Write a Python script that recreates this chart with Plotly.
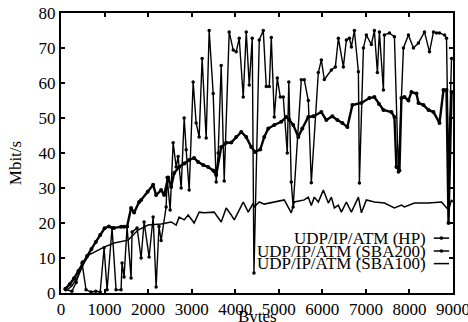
import plotly.graph_objects as go

# UDP/IP/ATM throughput over an HP adapter (thin line, point markers)
hp_bytes = [100, 250, 350, 483, 575, 690, 800, 900, 989, 1058, 1172, 1264, 1379, 1402,
            1448, 1517, 1609, 1632, 1747, 1839, 1908, 2023, 2115, 2184, 2250, 2299, 2414,
            2437, 2506, 2575, 2644, 2690, 2759, 2828, 2874, 2943, 3034, 3103, 3172, 3240,
            3333, 3402, 3494, 3563, 3609, 3678, 3747, 3862, 3954, 4023, 4092, 4184, 4253,
            4322, 4391, 4430, 4552, 4644, 4713, 4782, 4828, 4897, 4966, 5034, 5103, 5195,
            5230, 5287, 5330, 5517, 5586, 5678, 5747, 5908, 5977, 6046, 6207, 6299, 6368,
            6483, 6552, 6621, 6667, 6736, 6828, 6851, 6943, 7011, 7126, 7195, 7264, 7310,
            7402, 7425, 7540, 7655, 7747, 7862, 7977, 8092, 8207, 8345, 8460, 8552, 8621,
            8690, 8805, 8851, 8897, 8966]
hp_mbit = [1.0, 0.5, 3.0, 8.6, 0.9, 0.3, 0.5, 0.3, 12.9, 0.9, 18.6, 0.9, 0.9, 8.6,
           4.6, 18.9, 4.3, 17.4, 18.6, 10.0, 20.3, 10.3, 21.7, 1.7, 19.0, 15.0, 24.6,
           33.0, 23.7, 42.9, 36.0, 39.0, 30.0, 50.0, 40.9, 29.4, 60.3, 48.6, 44.6, 67.0,
           44.3, 75.0, 57.0, 31.7, 40.0, 65.0, 32.0, 74.6, 69.4, 68.9, 72.8, 56.0, 74.6,
           59.4, 72.8, 5.7, 72.3, 75.0, 59.0, 59.0, 73.0, 50.3, 61.4, 56.0, 56.0, 40.0,
           60.3, 31.7, 24.6, 60.9, 60.9, 55.0, 31.5, 63.0, 66.6, 61.0, 63.7, 64.6, 72.8,
           64.6, 72.3, 72.8, 70.3, 75.0, 63.2, 31.4, 70.0, 73.7, 71.0, 75.0, 63.0, 74.6,
           58.0, 73.7, 74.3, 73.2, 34.6, 70.0, 73.7, 70.0, 71.4, 74.6, 68.9, 74.6, 74.3,
           74.3, 73.7, 72.8, 36.0, 67.0]

# UDP/IP/ATM throughput over an SBA-200 adapter (thick line, point markers)
sba200_bytes = [100, 200, 300, 400, 500, 600, 700, 800, 900, 1000, 1100, 1218, 1379, 1448,
                1517, 1609, 1680, 1793, 1840, 1990, 2115, 2184, 2299, 2368, 2460, 2529,
                2598, 2713, 2828, 2943, 3057, 3149, 3264, 3379, 3494, 3563, 3678, 3793,
                3908, 4023, 4138, 4253, 4368, 4460, 4575, 4667, 4759, 4897, 5057, 5172,
                5241, 5333, 5448, 5540, 5678, 5793, 5977, 6092, 6230, 6345, 6460, 6575,
                6690, 6897, 7080, 7195, 7300, 7402, 7586, 7655, 7701, 7770, 7816, 7885,
                7977, 8046, 8161, 8207, 8322, 8437, 8552, 8690, 8782, 8851, 8897, 8966]
sba200_mbit = [1.2, 2.5, 4.2, 6.3, 8.8, 10.6, 12.6, 14.6, 16.6, 18.5, 19.0, 18.6, 18.9, 18.9,
               19.0, 24.3, 23.0, 26.0, 26.6, 28.9, 30.9, 28.0, 29.4, 28.0, 33.0, 30.3,
               34.3, 36.0, 37.0, 38.0, 38.6, 37.4, 36.6, 36.0, 35.0, 33.7, 41.7, 42.9,
               43.0, 44.6, 46.0, 44.6, 41.7, 40.3, 41.0, 44.6, 47.0, 48.0, 48.9, 50.3,
               49.5, 48.0, 44.6, 47.0, 50.3, 50.5, 51.7, 49.4, 50.5, 49.4, 48.6, 47.4,
               53.7, 54.3, 55.7, 56.0, 54.0, 52.3, 51.7, 50.3, 36.0, 35.0, 55.7, 56.0,
               55.0, 57.4, 57.0, 54.3, 53.7, 52.3, 51.7, 48.6, 58.0, 58.0, 20.0, 57.4]

# UDP/IP/ATM throughput over an SBA-100 adapter (thin line, no markers)
sba100_bytes = [100, 250, 400, 480, 529, 644, 759, 989, 1218, 1540, 1770, 2000, 2299, 2529,
                2644, 2713, 2828, 2920, 3057, 3172, 3287, 3517, 3678, 3793, 3908, 3977,
                4092, 4184, 4299, 4414, 4437, 4552, 4667, 4897, 5126, 5287, 5356, 5586,
                5678, 5747, 5816, 5908, 6023, 6138, 6207, 6276, 6368, 6437, 6552, 6667,
                6828, 6897, 7011, 7195, 7425, 7655, 7816, 7885, 8115, 8437, 8736, 8897,
                8966, 9000]
sba100_mbit = [0.5, 2.0, 5.0, 7.0, 8.6, 10.9, 11.7, 13.1, 14.3, 15.1, 18.0, 19.4, 19.7, 20.3,
               19.4, 21.7, 20.9, 22.3, 20.0, 23.1, 22.9, 23.1, 20.3, 24.3, 22.3, 20.9,
               23.7, 26.0, 23.1, 25.7, 24.6, 26.0, 25.4, 26.0, 26.6, 22.9, 26.0, 26.6,
               27.4, 25.0, 27.4, 26.0, 29.4, 25.7, 27.4, 24.3, 25.1, 23.1, 26.0, 23.1,
               27.4, 22.9, 26.6, 26.0, 25.7, 24.3, 25.1, 24.6, 25.7, 25.7, 26.0, 23.7,
               26.6, 26.0]

legend_labels = ["UDP/IP/ATM (HP)", "UDP/IP/ATM (SBA200)", "UDP/IP/ATM (SBA100)"]
x_ticks = list(range(0, 9001, 1000))
y_ticks = list(range(0, 81, 10))

SERIF = "Liberation Serif, Times New Roman, serif"
INK = "black"

fig = go.Figure()
fig.add_trace(go.Scatter(x=sba100_bytes, y=sba100_mbit, mode="lines",
                         line=dict(color=INK, width=1.5), name=legend_labels[2]))
fig.add_trace(go.Scatter(x=hp_bytes, y=hp_mbit, mode="lines+markers",
                         line=dict(color=INK, width=1.4),
                         marker=dict(color=INK, size=3.5, symbol="circle"),
                         name=legend_labels[0]))
fig.add_trace(go.Scatter(x=sba200_bytes, y=sba200_mbit, mode="lines+markers",
                         line=dict(color=INK, width=2.4),
                         marker=dict(color=INK, size=4, symbol="circle"),
                         name=legend_labels[1]))

axis_common = dict(showline=True, linecolor=INK, linewidth=2, mirror="ticks",
                   ticks="inside", ticklen=4, tickwidth=2, tickcolor=INK,
                   showgrid=False, zeroline=False, automargin=False,
                   ticklabeloverflow="allow",
                   tickfont=dict(family=SERIF, size=17, color=INK))
fig.update_xaxes(range=[0, 9000], tickvals=x_ticks, **axis_common)
fig.update_yaxes(range=[0, 80], tickvals=y_ticks, **axis_common)

# Right-aligned legend entries with short sample strokes on the right
rows_y = [0.196, 0.150, 0.105]
for i, (label, ry) in enumerate(zip(legend_labels, rows_y)):
    fig.add_annotation(xref="paper", yref="paper", x=0.935, y=ry, text=label,
                       showarrow=False, xanchor="right", yanchor="middle",
                       font=dict(family=SERIF, size=17, color=INK))
    fig.add_shape(type="line", xref="paper", yref="paper",
                  x0=0.951, x1=0.99, y0=ry, y1=ry,
                  line=dict(color=INK, width=1.5))
    if i < 2:
        fig.add_shape(type="circle", xref="paper", yref="paper",
                      x0=0.966, x1=0.975, y0=ry - 0.0065, y1=ry + 0.0065,
                      fillcolor=INK, line=dict(color=INK, width=0))

fig.add_annotation(xref="paper", yref="paper", x=-0.117, y=0.464, text="Mbit/s",
                   textangle=-90, showarrow=False, xanchor="center", yanchor="middle",
                   font=dict(family=SERIF, size=17, color=INK))
fig.add_annotation(xref="paper", yref="paper", x=0.5, y=-0.085, text="Bytes",
                   showarrow=False, xanchor="center", yanchor="middle",
                   font=dict(family=SERIF, size=17, color=INK))

fig.update_layout(width=468, height=322, showlegend=False,
                  margin=dict(l=61, r=15, t=13, b=29),
                  paper_bgcolor="white", plot_bgcolor="white")

fig.write_html("out.html")
